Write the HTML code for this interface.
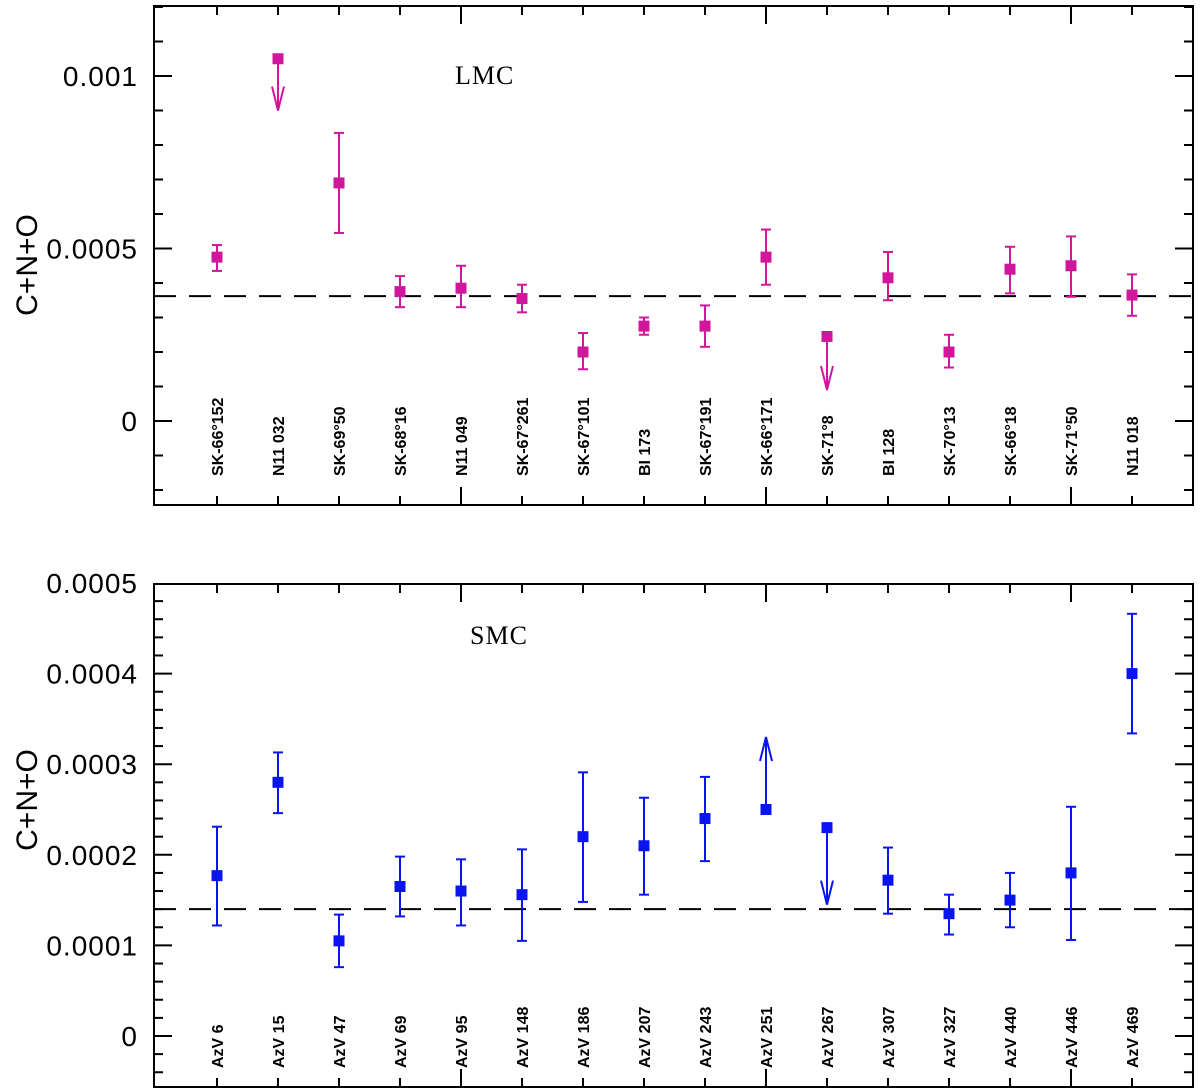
<!DOCTYPE html>
<html><head><meta charset="utf-8"><style>
html,body{margin:0;padding:0;background:#fff;}
svg{display:block;}
</style></head><body>
<svg id="chart" width="1200" height="1091" viewBox="0 0 1200 1091" xmlns="http://www.w3.org/2000/svg"></svg>
<script>
// ---- data (values in units of 1e-4) ----
const lmcNames = ["SK-66°152","N11 032","SK-69°50","SK-68°16","N11 049","SK-67°261","SK-67°101","BI 173","SK-67°191","SK-66°171","SK-71°8","BI 128","SK-70°13","SK-66°18","SK-71°50","N11 018"];
const lmcValues = [4.75,10.5,6.9,3.75,3.85,3.55,2.0,2.75,2.75,4.75,2.45,4.15,2.0,4.4,4.5,3.65];
const lmcLow = [4.35,9.0,5.45,3.3,3.3,3.15,1.5,2.5,2.15,3.95,0.9,3.5,1.55,3.7,3.6,3.05];
const lmcHigh = [5.1,10.5,8.35,4.2,4.5,3.95,2.55,3.0,3.35,5.55,2.45,4.9,2.5,5.05,5.35,4.25];
const lmcLimit = ["","upper","","","","","","","","","upper","","","","",""];
const lmcMean = 3.62;
const lmcTicks = [0,5,10];
const lmcTickLabels = ["0","0.0005","0.001"];

const smcNames = ["AzV 6","AzV 15","AzV 47","AzV 69","AzV 95","AzV 148","AzV 186","AzV 207","AzV 243","AzV 251","AzV 267","AzV 307","AzV 327","AzV 440","AzV 446","AzV 469"];
const smcValues = [1.77,2.8,1.05,1.65,1.6,1.56,2.2,2.1,2.4,2.5,2.3,1.72,1.35,1.5,1.8,4.0];
const smcLow = [1.22,2.46,0.76,1.32,1.22,1.05,1.48,1.56,1.93,2.5,1.45,1.35,1.12,1.2,1.06,3.34];
const smcHigh = [2.31,3.13,1.34,1.98,1.95,2.06,2.91,2.63,2.86,3.3,2.3,2.08,1.56,1.8,2.53,4.66];
const smcLimit = ["","","","","","","","","","lower","upper","","","","",""];
const smcMean = 1.4;
const smcTicks = [0,1,2,3,4,5];
const smcTickLabels = ["0","0.0001","0.0002","0.0003","0.0004","0.0005"];

const NS="http://www.w3.org/2000/svg";
const svg=document.getElementById('chart');
function el(tag,attrs,parent){const e=document.createElementNS(NS,tag);for(const k in attrs)e.setAttribute(k,attrs[k]);(parent||svg).appendChild(e);return e;}

function panel(cfg){
  const g=el('g',{});
  
  
  const L=154,R=1193,T=cfg.top,B=cfg.bottom;
  const x=i=>217+61*i;
  const y=v=>cfg.y0+(v-0)*(cfg.y1-cfg.y0)/cfg.v1;
  const fr=el('rect',{x:L,y:T,width:R-L,height:B-T,fill:'none',stroke:'#000','stroke-width':2},g);
  
  
  for(let v=cfg.minorStart;v<=cfg.vmax+1e-9;v+=cfg.minor){
    const yy=y(v); if(yy<T+1||yy>B-1)continue;
    const major=Math.abs(v/cfg.major-Math.round(v/cfg.major))<1e-6;
    const len=major?18:9;
    el('line',{x1:L,x2:L+len,y1:yy,y2:yy,stroke:'#000','stroke-width':2},g);
    el('line',{x1:R,x2:R-len,y1:yy,y2:yy,stroke:'#000','stroke-width':2},g);
  }
  cfg.ticks.forEach((t,k)=>{
    const tl=el('text',{x:L-16,y:y(t)+10,'text-anchor':'end','font-family':'Liberation Sans, sans-serif','font-size':28,'letter-spacing':1,fill:'#000'},g);
    tl.textContent=cfg.tickLabels[k];
    
    
  });
  cfg.names.forEach((n,i)=>{
    const len=((i+1)%5===0)?18:9;
    el('line',{x1:x(i),x2:x(i),y1:T,y2:T+len,stroke:'#000','stroke-width':2},g);
    el('line',{x1:x(i),x2:x(i),y1:B,y2:B-len,stroke:'#000','stroke-width':2},g);
    const t=el('text',{x:0,y:0,transform:`translate(${x(i)+6},${cfg.labelEnd}) rotate(-90)`,'font-family':'Liberation Sans, sans-serif','font-size':16,'font-weight':'bold',fill:'#000'},g);
    t.textContent=n;
    
    
  });
  const ml=el('line',{x1:L,x2:R,y1:y(cfg.mean),y2:y(cfg.mean),stroke:'#000','stroke-width':2,'stroke-dasharray':'22,13'},g);
  
  
  cfg.values.forEach((v,i)=>{
    const pg=el('g',{},g);
    
    
    const xx=x(i),c=cfg.color;
    const lim=cfg.limit[i];
    if(lim==='upper'){
      const ye=y(cfg.low[i]);
      el('line',{x1:xx,x2:xx,y1:y(v),y2:ye,stroke:c,'stroke-width':2},pg);
      el('polyline',{points:`${xx-6},${ye-24} ${xx},${ye} ${xx+6},${ye-24}`,fill:'none',stroke:c,'stroke-width':2},pg);
    }else if(lim==='lower'){
      const ye=y(cfg.high[i]);
      el('line',{x1:xx,x2:xx,y1:y(v),y2:ye,stroke:c,'stroke-width':2},pg);
      el('polyline',{points:`${xx-6},${ye+24} ${xx},${ye} ${xx+6},${ye+24}`,fill:'none',stroke:c,'stroke-width':2},pg);
    }else{
      const y1=y(cfg.high[i]),y2=y(cfg.low[i]);
      el('line',{x1:xx,x2:xx,y1:y1,y2:y2,stroke:c,'stroke-width':2},pg);
      el('line',{x1:xx-5,x2:xx+5,y1:y1,y2:y1,stroke:c,'stroke-width':2},pg);
      el('line',{x1:xx-5,x2:xx+5,y1:y2,y2:y2,stroke:c,'stroke-width':2},pg);
    }
    el('rect',{x:xx-5.5,y:y(v)-5.5,width:11,height:11,fill:c},pg);
  });
  const tt=el('text',{x:cfg.titleX,y:cfg.titleY,'font-family':'Liberation Serif, serif','font-size':26,'letter-spacing':1,fill:'#000'},g);
  tt.textContent=cfg.title;
  
  
  const yl=el('text',{x:0,y:0,transform:`translate(37,${cfg.ylabY}) rotate(-90)`,'text-anchor':'middle','font-family':'Liberation Sans, sans-serif','font-size':30,fill:'#000'},g);
  yl.textContent='C+N+O';
  
  
}

panel({name:'lmc-panel',top:6,bottom:505,y0:421,y1:76,v1:10,vmax:12,minor:1,major:5,minorStart:-3,
  ticks:lmcTicks,tickLabels:lmcTickLabels,names:lmcNames,values:lmcValues,low:lmcLow,high:lmcHigh,limit:lmcLimit,
  mean:lmcMean,color:'#d0169b',labelEnd:476,title:'LMC',titleX:455,titleY:84,ylabY:265});
panel({name:'smc-panel',top:584,bottom:1087,y0:1036,y1:583,v1:5,vmax:5.2,minor:0.2,major:1,minorStart:-1,
  ticks:smcTicks,tickLabels:smcTickLabels,names:smcNames,values:smcValues,low:smcLow,high:smcHigh,limit:smcLimit,
  mean:smcMean,color:'#0a14f0',labelEnd:1068,title:'SMC',titleX:470,titleY:644,ylabY:800});
</script>
</body></html>
